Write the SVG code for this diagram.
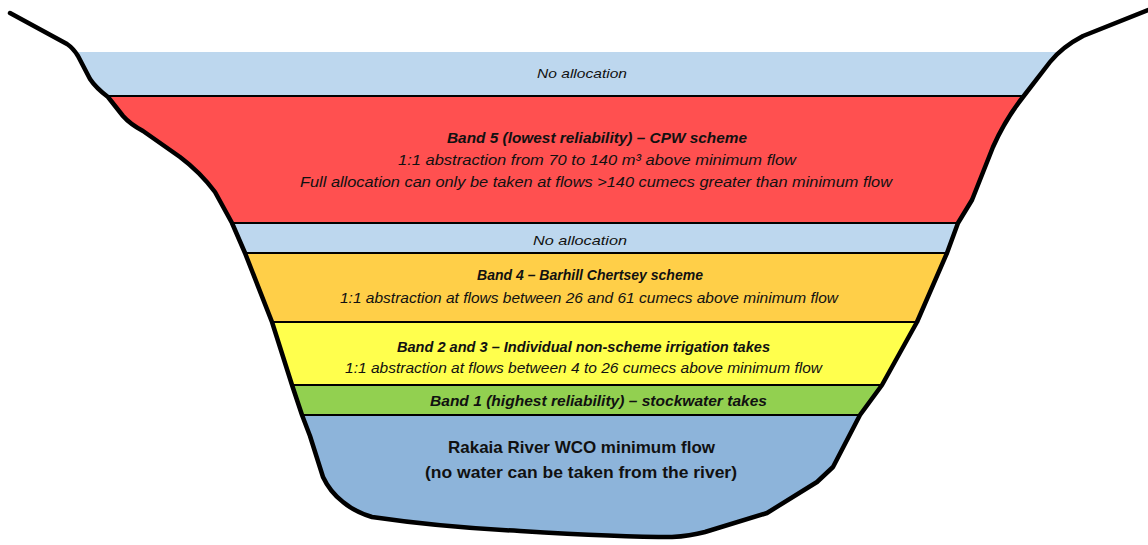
<svg xmlns="http://www.w3.org/2000/svg" width="1148" height="545" viewBox="0 0 1148 545">
<style>
.t{font-family:"Liberation Sans",Arial,sans-serif;fill:#111;text-anchor:middle}
.bi{font-style:italic;font-weight:bold;font-size:15.5px}
.i{font-style:italic;font-size:15.5px}
.na{font-style:italic;font-size:13.5px}
.b{font-weight:bold;font-size:16.5px}
.sep{stroke:#000;stroke-width:2.2}
.bank{fill:none;stroke:#000;stroke-width:4.5;stroke-linejoin:round;stroke-linecap:round}
</style>
<defs>
<clipPath id="river">
<path d="M10,13 L67,44 Q73,48 78,56 L90,79 Q96,88 108,97 L123,116 Q130,124 143,131 L180,157 Q200,172 215,192 L232,223 L245,253 L272,322 L292,385 L302,415 L310,436 L323,477 Q330,492 343,502 Q355,512 372,517 Q440,527 520,531 Q620,537 672,537 Q690,536 705,532 L767,513 L817,482 L833,467 L860,415 L882,385 L917,322 L947,253 L958,223 L972,200 L993,147 Q1005,120 1023,97 L1050,62 Q1062,47 1083,36 L1148,10 Z"/>
</clipPath>
</defs>
<g clip-path="url(#river)">
<g id="no-allocation-top"><rect x="0" y="52" width="1148" height="44" fill="#BDD7EE"/></g>
<g id="band5"><rect x="0" y="96" width="1148" height="127" fill="#FF5050"/></g>
<g id="no-allocation-mid"><rect x="0" y="223" width="1148" height="30" fill="#BDD7EE"/></g>
<g id="band4"><rect x="0" y="253" width="1148" height="69" fill="#FFCF48"/></g>
<g id="band23"><rect x="0" y="322" width="1148" height="63" fill="#FFFF4D"/></g>
<g id="band1"><rect x="0" y="385" width="1148" height="30" fill="#92D050"/></g>
<g id="minflow"><rect x="0" y="415" width="1148" height="130" fill="#8DB4DA"/></g>
<g id="separators">
<line class="sep" x1="0" y1="96" x2="1148" y2="96"/>
<line class="sep" x1="0" y1="223" x2="1148" y2="223"/>
<line class="sep" x1="0" y1="253" x2="1148" y2="253"/>
<line class="sep" x1="0" y1="322" x2="1148" y2="322"/>
<line class="sep" x1="0" y1="385" x2="1148" y2="385"/>
<line class="sep" x1="0" y1="415" x2="1148" y2="415"/>
</g>
</g>
<g id="banks">
<path class="bank" d="M10,13 L67,44 Q73,48 78,56 L90,79 Q96,88 108,97 L123,116 Q130,124 143,131 L180,157 Q200,172 215,192 L232,223 L245,253 L272,322 L292,385 L302,415 L310,436 L323,477 Q330,492 343,502 Q355,512 372,517 Q440,527 520,531 Q620,537 672,537 Q690,536 705,532 L767,513 L817,482 L833,467 L860,415 L882,385 L917,322 L947,253 L958,223 L972,200 L993,147 Q1005,120 1023,97 L1050,62 Q1062,47 1083,36 L1148,10"/>
</g>
<g id="labels">
<text class="t na" x="582" y="78" textLength="90" lengthAdjust="spacingAndGlyphs">No allocation</text>
<text class="t bi" x="597" y="143" textLength="300" lengthAdjust="spacingAndGlyphs">Band 5 (lowest reliability) – CPW scheme</text>
<text class="t i" x="597" y="165" textLength="398" lengthAdjust="spacingAndGlyphs">1:1 abstraction from 70 to 140 m³ above  minimum flow</text>
<text class="t i" x="596" y="187" textLength="592" lengthAdjust="spacingAndGlyphs">Full allocation can only be taken at flows &gt;140 cumecs greater than minimum flow</text>
<text class="t na" x="580" y="245" textLength="94" lengthAdjust="spacingAndGlyphs">No allocation</text>
<text class="t bi" x="590" y="280" textLength="226" lengthAdjust="spacingAndGlyphs">Band 4 – Barhill Chertsey scheme</text>
<text class="t i" x="589" y="303" textLength="498" lengthAdjust="spacingAndGlyphs">1:1 abstraction at flows between 26 and 61 cumecs above minimum flow</text>
<text class="t bi" x="583.5" y="352" textLength="373" lengthAdjust="spacingAndGlyphs">Band 2 and 3 – Individual  non-scheme irrigation takes</text>
<text class="t i" x="583.5" y="373" textLength="477" lengthAdjust="spacingAndGlyphs">1:1 abstraction at flows between 4 to 26 cumecs above minimum flow</text>
<text class="t bi" x="598.5" y="406" textLength="337" lengthAdjust="spacingAndGlyphs">Band 1 (highest reliability) – stockwater takes</text>
<text class="t b" x="581.5" y="453" textLength="267" lengthAdjust="spacingAndGlyphs">Rakaia  River WCO minimum  flow</text>
<text class="t b" x="581" y="478" textLength="312" lengthAdjust="spacingAndGlyphs">(no water can be taken from the river)</text>
</g>
</svg>
